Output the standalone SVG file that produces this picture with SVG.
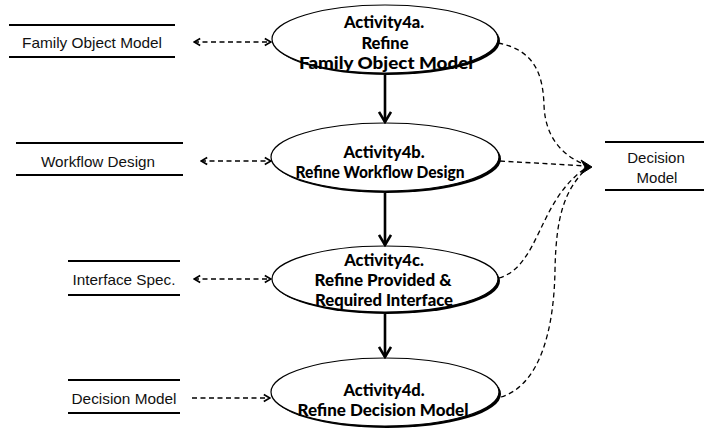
<svg xmlns="http://www.w3.org/2000/svg" width="704" height="436" viewBox="0 0 704 436">
  <style>
    .store line { stroke: #000; stroke-width: 2; }
    .store text { font-family: "Liberation Sans", Arial, sans-serif; font-size: 15px; fill: #111; text-anchor: middle; }
    .act .shadow { fill: #000; }
    .act .body { fill: #fff; stroke: #000; stroke-width: 1.2; }
    .act text { font-family: Lato, "Open Sans", sans-serif; font-weight: 900; font-size: 16.5px; fill: #000; text-anchor: middle; }
    .dash { fill: none; stroke: #000; stroke-width: 1.3; stroke-dasharray: 5 3.5; }
    .flow { fill: none; stroke: #000; stroke-width: 2.6; }
  </style>
  <defs>
    <marker id="chev" viewBox="0 0 8 10" refX="7.2" refY="5" markerWidth="8" markerHeight="10" markerUnits="userSpaceOnUse" orient="auto-start-reverse">
      <path d="M1,1.5 L7,5 L1,8.5" fill="none" stroke="#000" stroke-width="1.7"/>
    </marker>
    <marker id="down" viewBox="0 0 14 14" refX="12" refY="7" markerWidth="14" markerHeight="14" markerUnits="userSpaceOnUse" orient="auto">
      <path d="M2,1 L12,7 L2,13" fill="none" stroke="#000" stroke-width="2.6"/>
    </marker>
  </defs>

  <!-- data stores on the left -->
  <g id="store-family" class="store">
    <line x1="9" y1="25" x2="175" y2="25"/>
    <line x1="9" y1="57" x2="175" y2="57"/>
    <text x="92" y="48" textLength="140" lengthAdjust="spacingAndGlyphs">Family Object Model</text>
  </g>
  <g id="store-workflow" class="store">
    <line x1="16" y1="143" x2="183" y2="143"/>
    <line x1="16" y1="175" x2="183" y2="175"/>
    <text x="98" y="167" textLength="114" lengthAdjust="spacingAndGlyphs">Workflow Design</text>
  </g>
  <g id="store-interface" class="store">
    <line x1="68" y1="261" x2="180" y2="261"/>
    <line x1="68" y1="295" x2="180" y2="295"/>
    <text x="124" y="285" textLength="103" lengthAdjust="spacingAndGlyphs">Interface Spec.</text>
  </g>
  <g id="store-decision-in" class="store">
    <line x1="68" y1="380" x2="180" y2="380"/>
    <line x1="68" y1="413" x2="180" y2="413"/>
    <text x="124" y="404" textLength="105" lengthAdjust="spacingAndGlyphs">Decision Model</text>
  </g>

  <!-- data store on the right -->
  <g id="store-decision-out" class="store">
    <line x1="605" y1="142" x2="704" y2="142"/>
    <line x1="605" y1="190" x2="704" y2="190"/>
    <text x="656" y="163">Decision</text>
    <text x="657" y="183">Model</text>
  </g>

  <!-- activities -->
  <g id="act-4a" class="act">
    <ellipse class="shadow" cx="387" cy="41" rx="113" ry="34"/>
    <ellipse class="body" cx="385" cy="39" rx="113" ry="34"/>
    <text x="384" y="28">Activity4a.</text>
    <text x="385" y="49">Refine</text>
    <text x="386" y="69" textLength="174" lengthAdjust="spacingAndGlyphs">Family Object Model</text>
  </g>
  <g id="act-4b" class="act">
    <ellipse class="shadow" cx="387" cy="159" rx="114" ry="34"/>
    <ellipse class="body" cx="385" cy="157" rx="114" ry="34"/>
    <text x="384" y="158">Activity4b.</text>
    <text x="380" y="178" textLength="169" lengthAdjust="spacingAndGlyphs">Refine Workflow Design</text>
  </g>
  <g id="act-4c" class="act">
    <ellipse class="shadow" cx="387" cy="281" rx="113" ry="33"/>
    <ellipse class="body" cx="385" cy="279" rx="113" ry="33"/>
    <text x="384" y="266">Activity4c.</text>
    <text x="383" y="286" textLength="137" lengthAdjust="spacingAndGlyphs">Refine Provided &amp;</text>
    <text x="384" y="306" textLength="138" lengthAdjust="spacingAndGlyphs">Required Interface</text>
  </g>
  <g id="act-4d" class="act">
    <ellipse class="shadow" cx="387" cy="394" rx="114" ry="34"/>
    <ellipse class="body" cx="385" cy="392" rx="114" ry="34"/>
    <text x="384" y="396">Activity4d.</text>
    <text x="383" y="416" textLength="171" lengthAdjust="spacingAndGlyphs">Refine Decision Model</text>
  </g>

  <!-- connectors -->
  <g id="connectors">
    <!-- control flow between activities -->
    <line class="flow" x1="385" y1="75" x2="385" y2="122" marker-end="url(#down)"/>
    <line class="flow" x1="385" y1="193" x2="385" y2="245" marker-end="url(#down)"/>
    <line class="flow" x1="385" y1="314" x2="385" y2="357" marker-end="url(#down)"/>

    <!-- data exchange with the left stores -->
    <line class="dash" x1="194" y1="42" x2="271" y2="42" marker-start="url(#chev)" marker-end="url(#chev)"/>
    <line class="dash" x1="201" y1="161" x2="271" y2="161" marker-start="url(#chev)" marker-end="url(#chev)"/>
    <line class="dash" x1="194" y1="279" x2="271" y2="279" marker-start="url(#chev)" marker-end="url(#chev)"/>
    <line class="dash" x1="192" y1="398" x2="270" y2="398" marker-end="url(#chev)"/>

    <!-- outputs into the right-hand decision model -->
    <path class="dash" d="M498,43 C535,50 543,75 544,105 C545,135 560,155 586,165"/>
    <line class="dash" x1="500" y1="161" x2="586" y2="166"/>
    <path class="dash" d="M499,278 C540,266 538,200 586,168"/>
    <path class="dash" d="M501,397 C540,385 554,330 555,270 C556,215 565,190 586,169"/>
    <path d="M581,160 L592,167 L581,174 L585,167 z" fill="#000" stroke="#000" stroke-width="1" stroke-linejoin="round"/>
  </g>
</svg>
